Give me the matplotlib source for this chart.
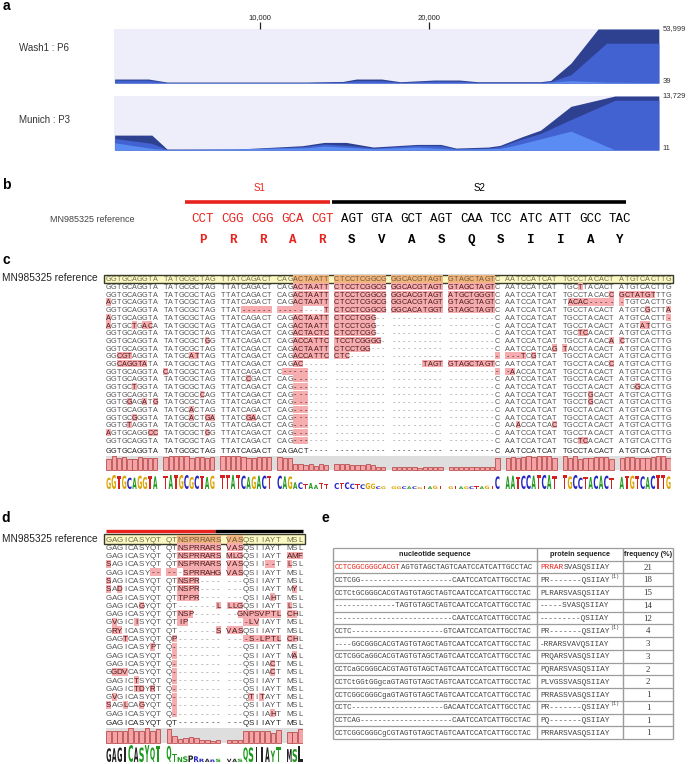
import matplotlib
matplotlib.use("Agg")
import matplotlib.pyplot as plt
from matplotlib.patches import Rectangle, PathPatch
from matplotlib.textpath import TextPath
from matplotlib.font_manager import FontProperties
from matplotlib.transforms import Affine2D
from collections import Counter

W, H = 689, 764

# ---------------- panel a : coverage tracks ----------------
tick_pos = [10000, 20000]
tick_labels = ["10,000", "20,000"]

wash_pos_dark = [1400, 3400, 4500, 12800, 14900, 15700, 17200, 18300, 20300, 21800, 22900, 25000, 26600, 27200, 28400, 30000, 33600]
wash_cov_dark = [4000, 4000, 1000, 1000, 1600, 4000, 4000, 1300, 3000, 3000, 1300, 1300, 1300, 2600, 19900, 53999, 53999]
wash_pos_mid = [1400, 3400, 4500, 12800, 14900, 15700, 17200, 18300, 20300, 21800, 22900, 26600, 27200, 28400, 30500, 33600]
wash_cov_mid = [2900, 2900, 500, 500, 900, 2400, 2400, 700, 1900, 1900, 700, 700, 1500, 8300, 39800, 39800]
wash_pos_light = [1400, 26600, 28400, 30500, 33600]
wash_cov_light = [300, 300, 2300, 900, 500]

mun_pos_dark = [1400, 3600, 4500, 8600, 10200, 12500, 13800, 15100, 16700, 19300, 20700, 21600, 23500, 24200, 25500, 26600, 28400, 31000, 33600]
mun_cov_dark = [3790, 3790, 250, 250, 590, 1100, 1940, 1940, 760, 1430, 1430, 500, 760, 1180, 3370, 5050, 11100, 13729, 13729]
mun_pos_mid = [1400, 3600, 4500, 8600, 12500, 13800, 15400, 16700, 19300, 20700, 21600, 23500, 24200, 25300, 26600, 28400, 31000, 33600]
mun_cov_mid = [2950, 1690, 170, 170, 840, 1520, 1100, 500, 1180, 1100, 340, 500, 840, 2530, 4210, 7750, 12630, 12630]
mun_pos_light = [1400, 3600, 4500, 12800, 13800, 16700, 19300, 21600, 24200, 25000, 28400, 31000, 33600]
mun_cov_light = [1850, 420, 80, 590, 1010, 340, 760, 170, 420, 1100, 4800, 80, 80]

track_names = ["Wash1 : P6", "Munich : P3"]
track_min = [39, 11]
track_max = [53999, 13729]

# ---------------- panel b : junction ----------------
codons = ["CCT", "CGG", "CGG", "GCA", "CGT", "AGT", "GTA", "GCT", "AGT", "CAA", "TCC", "ATC", "ATT", "GCC", "TAC"]
amino = ["P", "R", "R", "A", "R", "S", "V", "A", "S", "Q", "S", "I", "I", "A", "Y"]
n_s1 = 5

# ---------------- panel c : nucleotide alignment ----------------
# lower case / "_" = highlighted cell
ref_c = "GGTGCAGGTA TATGCGCTAG TTATCAGACT CAGactaatt ctcctcggcg ggcacgtagt gtagctagtC AATCCATCAT TGCCTACACT ATGTCACTTG"
rows_c = [
    "GGTGCAGGTA TATGCGCTAG TTATCAGACT CAGactaatt ctcctcggcg ggcacgtagt gtagctagtC AATCCATCAT TGCtTACACT ATGTCACTTG",
    "GGTGCAGGTA TATGCGCTAG TTATCAGACT CAGactaatt ctcctcggcg ggcacgtagt atgctgggtC AATCCATCAT TGCCTACACc gctatgtTTG",
    "aGTGCAGGTA TATGCGCTAG TTATCAGACT CAGactaatt ctcctcggcg ggcacgtagt gtagctagtC AATCCATCAT Tacac_____ _TGTCACTTG",
    "GGTGCAGGTA TATGCGCTAG TTAT______ _____----t ctcctcggcg ggcacatggt gtagctagtC AATCCATCAT TGCCTACACT ATGTCgCTTa",
    "aGTGCAGGTA TATGCGCTAG TTATCAGACT CAGactaatt ctcctcgg-- ---------- ---------C AATCCATCAT TGCCTACACT ATGTCACTT_",
    "aGTGCtGacA TATGCGCTAG TTATCAGACT CAGactaatt ctcctcgg-- ---------- ---------C AATCCATCAT TGCCTACACT ATGTatCTTG",
    "GGTGCAGGTA TATGCGCTAG TTATCAGACT CAGactactc ctcctcgg-- ---------- ---------C AATCCATCAT TGCtcACACT ATGTCACTTG",
    "GGTGCAGGTA TATGCGCTgG TTATCAGACT CAGaccattc tcctcgggg- ---------- ---------C AATCCATCAT TGCCTACACa cTGTCACTTG",
    "GGTGCAGGTA TATGCGCTAG TTATCAGACT CAGactaatt ctcctgg--- ---------- ---------C AATCCATCAg tACCTACACT ATGTCACTTG",
    "GGcgtAGGTA TATGCatTAG TTATCAGACT CAGaccattc ctc------- ---------- ---------_ ___tCgTCAT TGCCTACACT ATGTCACTTG",
    "GGcaggtaTA TATGCGCTAG TTATCAGACT CAGac----- ---------- ------tagt gtagctagtC AATCCATCAT TGCCTACACc ATGTCACTTG",
    "GGTGCAGGTA cATGCGCTAG TTATCAGACT C_____---- ---------- ---------- ---------_ _aACCATCAT TGCCTACACT ATGTCACTTG",
    "GGTGCAGGTA TATGCGCTAG TTATCcGACT CAG___---- ---------- ---------- ---------C AATCCATCAT TGCCTACACT ATGTCACTTG",
    "GGTGCtGGTA TATGCGCTAG TTATCAGACT CAG___---- ---------- ---------- ---------C AATCCATCAT TGCCTACACT ATGgCACTTG",
    "GGTGCAGGTA TATGCGCcAG TTATCAGACT CAG___---- ---------- ---------- ---------C AATCCATCAT TGCCTgCACT ATGTCACTTG",
    "GGTGgAGaTg TATGCGCTAG TTATCAGACT CAG___---- ---------- ---------- ---------C AATCCATCAT TGCCTgCACT ATGTCACTTG",
    "GGTGCAGGTA TATGCaCTAG TTATCAGACT CAG___---- ---------- ---------- ---------C AATCCATCAT TGCCTACACT ATGTCACTTG",
    "GGTGCgGGTA TATGCaCTga TTATCgaACT CAG___---- ---------- ---------- ---------C AATCCATCAT TGCCTACACT ATGTCACTTG",
    "GGTGtAGGTA TATGCGCTAG TTATCAGACT CAG___---- ---------- ---------- ---------C AAaCCATCAc TGCCTACACT ATGTCACTTG",
    "aGTGCAGGcc TATGCGCTgG TTATCAGACT CAG___---- ---------- ---------- ---------C AATCCATCAT TGCCTACACT ATGTCACTTG",
    "GGTGCAGGTA TATGCGCTAG TTATCAGACT CAG___---- ---------- ---------- ---------C AATCCATCAT TGCtcACACT ATGTCACTTG",
]
cons_c = "GGTGCAGGTA TATGCGCTAG TTATCAGACT CAGACT---- ---------- ---------- ---------C AATCCATCAT TGCCTACACT ATGTCACTTG"

# ---------------- panel d : protein alignment ----------------
ref_d = "GAGICASYQT QTnsprrars vasQSIIAYT MSL"
rows_d = [
    "GAGICASYQT QTnsprrars vasQSIIAYT MSL",
    "GAGICASYQT QTnsprrars mlgQSIIAYT amf",
    "sAGICASYQT QTnsprrars vasQSII__T lSL",
    "GAGICASY__ __-sprrahg vasQSIIAYT MSL",
    "sAGICASYQT QTnspr---- ---QSIIAYT MSL",
    "sAdICASYQT QTnspr---- ---QSIIAYT MyL",
    "GAGICASYQT QTtppr---- ---QSIIAhT MSL",
    "GAGICAgYQT QT-------l llgQSIIAYT lSL",
    "GAGICASYQT QTnsp----- --gnpsvptl chL",
    "GvGICiSYQT QTip------ ---_lvIAYT MSL",
    "GryICASYQT QT-------s vasQSIIAYT MSL",
    "GAGtCASYQT Qp-------- ---_s_lptl chL",
    "GAGICASYpT Q_-------- ---QSIIAYT MSL",
    "GAGICASYQT Q_-------- ---QSIIAYT MaL",
    "GAGICASYQT Q_-------- ---QSIIAcT MSL",
    "GgdvCASYQT Q_-------- ---QSIIAcT MSL",
    "GAGICtSYQT Q_-------- ---QSIIAYT MSL",
    "GAGICtdYrT Q_-------- ---QSIIAYT MSL",
    "GvGICASYQT Q_-------- ---QtItAYT MSL",
    "sAGlCAgYQT Q_-------- ---QSIIAYT MSL",
    "GAGICASYQT Q_-------- ---QSIIAhT MSL",
]
cons_d = "GAGICASYQT QT-------- ---QSIIAYT MSL"

# ---------------- panel e : table ----------------
nt_seqs = [
    "CCTCGGCGGGCACGTAGTGTAGCTAGTCAATCCATCATTGCCTAC",
    "CCTCGG" + "-" * 21 + "CAATCCATCATTGCCTAC",
    "CCTCtGCGGGCACGTAGTGTAGCTAGTCAATCCATCATTGCCTAC",
    "-" * 14 + "TAGTGTAGCTAGTCAATCCATCATTGCCTAC",
    "-" * 27 + "CAATCCATCATTGCCTAC",
    "CCTC" + "-" * 21 + "GTCAATCCATCATTGCCTAC",
    "----GGCGGGCACGTAGTGTAGCTAGTCAATCCATCATTGCCTAC",
    "CCTCGGCaGGCACGTAGTGTAGCTAGTCAATCCATCATTGCCTAC",
    "CCTCaGCGGGCACGTAGTGTAGCTAGTCAATCCATCATTGCCTAC",
    "CCTCtGGtGGgcaGTAGTGTAGCTAGTCAATCCATCATTGCCTAC",
    "CCTCGGCGGGCgaGTAGTGTAGCTAGTCAATCCATCATTGCCTAC",
    "CCTC" + "-" * 21 + "GACAATCCATCATTGCCTAC",
    "CCTCAG" + "-" * 21 + "CAATCCATCATTGCCTAC",
    "CCTCGGCGGGCgCGTAGTGTAGCTAGTCAATCCATCATTGCCTAC",
]
aa_seqs = [
    "PRRARSVASQSIIAY", "PR-------QSIIAY(1)", "PLRARSVASQSIIAY", "-----SVASQSIIAY",
    "---------QSIIAY", "PR-------QSIIAY(1)", "-RRARSVAVQSIIAY", "PRQARSVASQSIIAY",
    "PQRARSVASQSIIAY", "PLVGSSVASQSIIAY", "PRRASSVASQSIIAY", "PR-------QSIIAY(1)",
    "PQ-------QSIIAY", "PRRARSVASQSIIAY",
]
freqs = [21, 18, 15, 14, 12, 4, 3, 3, 2, 2, 1, 1, 1, 1]
table_header = ["nucleotide sequence", "protein sequence", "frequency (%)"]

# ---------------- styles ----------------
RED = "#e8231e"
PINK = "#f5adb0"
ORANGE = "#f0b47c"
YELLOW = "#fbf8c2"
NT_COL = {"A": "#1f9a1f", "C": "#2424c4", "G": "#dba400", "T": "#d42020"}
AA_COL = {}
for c in "GAVLIPFMW":
    AA_COL[c] = "#222222"
for c in "STYCQN":
    AA_COL[c] = "#1c9a1c"
for c in "KRH":
    AA_COL[c] = "#2424c4"
for c in "DE":
    AA_COL[c] = "#d42020"
SANS = "Liberation Sans"
MONO = "Liberation Mono"
LOGO_FP = FontProperties(family="DejaVu Sans", weight="bold")

fig = plt.figure(figsize=(W / 100, H / 100), dpi=100)


def rect(x0, y0, x1, y1):
    return [x0 / W, 1 - y1 / H, (x1 - x0) / W, (y1 - y0) / H]


ov = fig.add_axes([0, 0, 1, 1])
ov.set_xlim(0, W)
ov.set_ylim(H, 0)
ov.axis("off")

for lab, x, y in [("a", 6, 6), ("b", 6, 185), ("c", 6, 260), ("d", 6, 518), ("e", 325, 518)]:
    ov.text(x, y, lab, fontsize=10, fontweight="bold", family=SANS, ha="center", va="center")

# ---- panel a
layers = [
    [(wash_pos_dark, wash_cov_dark), (wash_pos_mid, wash_cov_mid), (wash_pos_light, wash_cov_light)],
    [(mun_pos_dark, mun_cov_dark), (mun_pos_mid, mun_cov_mid), (mun_pos_light, mun_cov_light)],
]
layer_cols = ["#2e4191", "#4162d0", "#5a8cf4"]
track_y = [(29, 83), (96, 150)]
label_y = [48, 120]
for i in range(2):
    y0, y1 = track_y[i]
    ax = fig.add_axes(rect(114, y0, 659, y1))
    ax.set_facecolor("#eeeefa")
    for (pos, cov), col in zip(layers[i], layer_cols):
        ax.fill_between(pos, track_min[i], cov, color=col, lw=0)
    ax.set_xlim(1361, 33609)
    ax.set_ylim(track_min[i], track_max[i])
    for s in ax.spines.values():
        s.set_visible(False)
    ax.set_yticks([])
    if i == 0:
        ax.xaxis.tick_top()
        ax.set_xticks(tick_pos)
        ax.set_xticklabels(tick_labels, fontsize=5.5, family=SANS)
        ax.tick_params(axis="x", length=5, width=0.9, pad=0.5, colors="#222222")
    else:
        ax.set_xticks([])
    ax.text(1.007, 1.0, f"{track_max[i]:,}", transform=ax.transAxes, fontsize=5.5,
            family=SANS, va="center", ha="left", color="#333333")
    ax.text(1.007, 0.02, f"{track_min[i]:,}", transform=ax.transAxes, fontsize=5.5,
            family=SANS, va="center", ha="left", color="#333333")
    ov.text(19, label_y[i], track_names[i], fontsize=7, family=SANS, va="center", color="#333333")

# ---- panel b
ov.plot([185, 330], [202, 202], color=RED, lw=2.6, solid_capstyle="butt")
ov.plot([332, 626], [202, 202], color="black", lw=2.6, solid_capstyle="butt")
ov.text(259, 188, "S1", color=RED, fontsize=7, family=SANS, ha="center", va="center")
ov.text(479, 188, "S2", color="black", fontsize=7, family=SANS, ha="center", va="center")
ov.text(50, 219, "MN985325 reference", fontsize=6.5, family=SANS, va="center", color="#444444")
for k, (cod, aa) in enumerate(zip(codons, amino)):
    col = RED if k < n_s1 else "black"
    x = 203 + 29.8 * k
    ov.text(x, 219, cod, color=col, fontsize=9, family=MONO, ha="center", va="center")
    ov.text(x, 240, aa, color=col, fontsize=9, family=MONO, fontweight="bold", ha="center", va="center")


def column_stats(rows):
    stats = []
    for j in range(len(rows[0])):
        col = [r[j].upper().replace("_", "-") for r in rows]
        if col[0] == " ":
            continue
        letters = [c for c in col if c != "-"]
        if not letters:
            continue
        ch, n = Counter(letters).most_common(1)[0]
        stats.append((j, ch, n / len(rows)))
    return stats


def draw_row(ax, row, y, fs, hl_col, txt_col, hl_txt_col, pad=0.04):
    j = 0
    n = len(row)
    while j < n:
        if row[j].islower() or row[j] == "_":
            k = j
            while k < n and (row[k].islower() or row[k] == "_"):
                k += 1
            ax.add_patch(Rectangle((j + pad, y - 0.46), k - j - 2 * pad, 0.92, fc=hl_col, lw=0))
            j = k
        else:
            j += 1
    for j, ch in enumerate(row):
        if ch == " ":
            continue
        hl = ch.islower() or ch == "_"
        c = "-" if ch in "-_" else ch.upper()
        col = hl_txt_col if hl else txt_col
        if c == "-" and not hl:
            col = "#8a8a8a"
        ax.text(j + 0.5, y, c, ha="center", va="center_baseline", fontsize=fs,
                family=SANS, color=col)


def draw_letter(ax, ch, x, ybase, w, h, color):
    tp = TextPath((0, 0), ch, size=1, prop=LOGO_FP)
    bb = tp.get_extents()
    if ch == "I":
        x += w * 0.35
        w *= 0.3
    tr = Affine2D().translate(-bb.x0, -bb.y0).scale(w / bb.width, -h / bb.height).translate(x, ybase)
    ax.add_patch(PathPatch(tr.transform_path(tp), fc=color, lw=0))


def draw_alignment(ax, ref, rows, cons, fs, cons_y, band, logo, colors, ncols):
    ax.add_patch(Rectangle((-0.3, -0.55), ncols + 0.6, 1.1, fc=YELLOW, ec="#3a3a2a", lw=1.0, clip_on=False))
    draw_row(ax, ref, 0, fs, ORANGE, "#6e6e50", "#6e5a40")
    for r, row in enumerate(rows):
        draw_row(ax, row, r + 1, fs, PINK, "#555555", "#4a1818")
    for j, ch in enumerate(cons):
        if ch != " ":
            ax.text(j + 0.5, cons_y, ch, ha="center", va="center_baseline", fontsize=fs,
                    family=SANS, color="#222222")
    stats = column_stats(rows)
    b_top, b_bot = band
    ax.add_patch(Rectangle((0, b_top), ncols, b_bot - b_top, fc="#dedede", lw=0))
    for j, ch, idn in stats:
        ax.add_patch(Rectangle((j + 0.08, b_bot), 0.84, -idn * (b_bot - b_top) * 0.97,
                               fc="#f4a3a6", ec="#b03838", lw=0.5))
    l_top, l_bot = logo
    for j, ch, idn in stats:
        draw_letter(ax, ch, j + 0.08, l_bot, 0.84, idn * (l_bot - l_top), colors.get(ch, "#222222"))


# ---- panel c
ov.text(2, 278, "MN985325 reference", fontsize=7.3, family=SANS, va="center", color="#222222")
axc = fig.add_axes(rect(106, 274, 671, 492))
ncol_c = len(ref_c)
axc.set_xlim(0, ncol_c)
axc.set_ylim(27.77, -0.65)
axc.axis("off")
draw_alignment(axc, ref_c, rows_c, cons_c, 5.2, 22.3, (23.08, 24.9), (25.55, 27.38), NT_COL, ncol_c)

# ---- panel d
ov.text(2, 539, "MN985325 reference", fontsize=7.3, family=SANS, va="center", color="#222222")
axd = fig.add_axes(rect(106, 527, 303, 764))
ncol_d = len(ref_d)
axd.set_xlim(0, ncol_d)
axd.set_ylim(27.11, -1.446)
axd.axis("off")
axd.plot([0, 19.9], [-0.964, -0.964], color=RED, lw=2.4, solid_capstyle="butt", clip_on=False)
axd.plot([19.9, ncol_d], [-0.964, -0.964], color="black", lw=2.4, solid_capstyle="butt", clip_on=False)
draw_alignment(axd, ref_d, rows_d, cons_d, 5.8, 22.05, (22.77, 24.58), (24.82, 26.87), AA_COL, ncol_d)

# ---- panel e
axe = fig.add_axes(rect(333, 548, 673, 739))
axe.set_xlim(0, 340)
axe.set_ylim(len(nt_seqs) + 1, 0)
axe.axis("off")
n_rows = len(nt_seqs) + 1
axe.hlines(range(n_rows + 1), 0, 340, color="#9c9c9c", lw=0.9, clip_on=False)
axe.vlines([0, 204, 290, 340], 0, n_rows, color="#9c9c9c", lw=1.0, clip_on=False)
for x, txt in zip([102, 247, 315], table_header):
    axe.text(x, 0.5, txt, ha="center", va="center", fontsize=5.2, family=SANS,
             fontweight="bold", color="#222222")
cw_nt = 0.6 * 5.3 * 100 / 72
cw_aa = 0.6 * 5.6 * 100 / 72
for i, (nt, aa, fq) in enumerate(zip(nt_seqs, aa_seqs, freqs)):
    y = i + 1.55
    if i == 0:
        axe.text(2, y, nt[:15], ha="left", va="center", fontsize=5.3, family=MONO, color=RED)
        axe.text(2 + 15 * cw_nt, y, nt[15:], ha="left", va="center", fontsize=5.3, family=MONO, color="#444444")
        axe.text(207, y, aa[:5], ha="left", va="center", fontsize=5.6, family=MONO, color=RED)
        axe.text(207 + 5 * cw_aa, y, aa[5:], ha="left", va="center", fontsize=5.6, family=MONO, color="#444444")
    else:
        axe.text(2, y, nt, ha="left", va="center", fontsize=5.3, family=MONO, color="#444444")
        note = aa.endswith("(1)")
        core = aa[:-3] if note else aa
        axe.text(207, y, core, ha="left", va="center", fontsize=5.6, family=MONO, color="#444444")
        if note:
            axe.text(207 + len(core) * cw_aa + 0.5, y - 0.3, "(1)", ha="left", va="center",
                     fontsize=3.6, family=MONO, color="#444444")
    axe.text(315, y, str(fq), ha="center", va="center", fontsize=6.3, family="Liberation Serif",
             color="#333333")

fig.savefig("out.png", dpi=100)
